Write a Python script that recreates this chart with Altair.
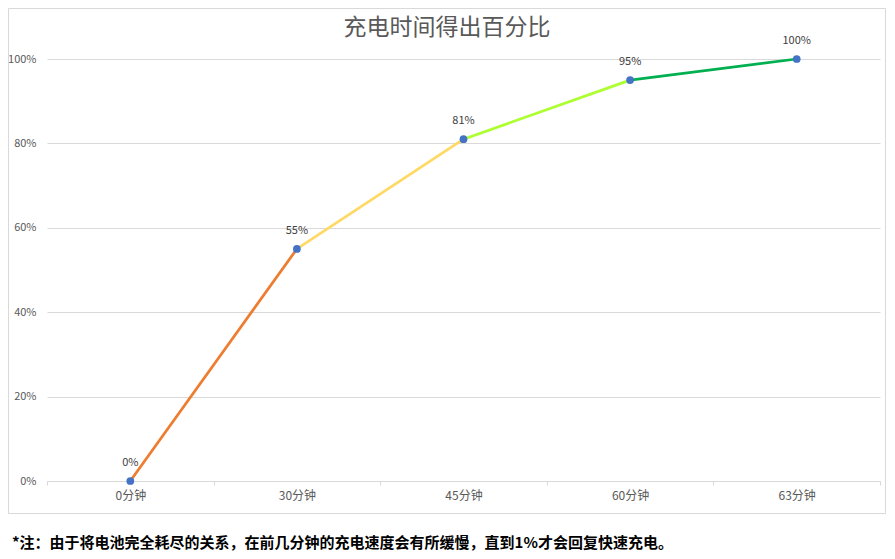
import altair as alt
import pandas as pd

categories = ["0分钟", "30分钟", "45分钟", "60分钟", "63分钟"]
values = [0.00, 0.55, 0.81, 0.95, 1.00]
labels = ["0%", "55%", "81%", "95%", "100%"]
segment_colors = ["#ED7D31", "#FFD966", "#ADFF2F", "#00B050"]
y_ticks = [0, 0.2, 0.4, 0.6, 0.8, 1.0]
title_text = "充电时间得出百分比"
note_text = "*注：由于将电池完全耗尽的关系，在前几分钟的充电速度会有所缓慢，直到1%才会回复快速充电。"

points = pd.DataFrame({"cat": categories, "val": values, "label": labels})
seg_rows = []
for i, c in enumerate(segment_colors):
    for j in (i, i + 1):
        seg_rows.append({"seg": f"s{i}", "cat": categories[j], "val": values[j], "color": c})
segs = pd.DataFrame(seg_rows)

FONT = "Noto Sans CJK SC"

x_enc = alt.X(
    "cat:N",
    sort=categories,
    bandPosition=0.5,
    scale=alt.Scale(type="band", paddingInner=0, paddingOuter=0, domain=categories),
    axis=alt.Axis(
        title=None, labelAngle=0, tickBand="extent", ticks=True, tickSize=4,
        tickColor="#d9d9d9", domainColor="#d9d9d9", labelColor="#595959",
        labelFontSize=12, labelFont=FONT, labelPadding=5, grid=False,
    ),
)
y_enc = alt.Y(
    "val:Q",
    scale=alt.Scale(domain=[0, 1], nice=False),
    axis=alt.Axis(
        title=None, format=".0%", values=y_ticks, domain=False, ticks=False,
        labelPadding=11, gridColor="#d9d9d9", labelColor="#595959",
        labelFontSize=11, labelFont=FONT,
    ),
)

one = pd.DataFrame({"t": [title_text], "n": [note_text]})

border = alt.Chart(one).mark_rect(
    filled=False, stroke="#d9d9d9", strokeWidth=1, fillOpacity=0
).encode(
    x=alt.value(-38.5), x2=alt.value(838.5), y=alt.value(-50.5), y2=alt.value(454.5)
)

lines = alt.Chart(segs).mark_line(strokeWidth=2.75, strokeCap="round").encode(
    x=x_enc, y=y_enc, detail="seg:N", color=alt.Color("color:N", scale=None)
)

dots = alt.Chart(points).mark_point(
    filled=True, size=60, color="#4472C4", opacity=1
).encode(x=x_enc, y=y_enc)

texts = alt.Chart(points).mark_text(
    dy=-18, fontSize=11, color="#404040", font=FONT, baseline="middle"
).encode(x=x_enc, y=y_enc, text="label:N")

title = alt.Chart(one).mark_text(
    fontSize=23, color="#595959", font=FONT, align="center", baseline="middle"
).encode(x=alt.value(400), y=alt.value(-31), text="t:N")

note = alt.Chart(one).mark_text(
    fontSize=15, fontWeight="bold", color="#000000", font=FONT,
    align="left", baseline="middle"
).encode(x=alt.value(-35), y=alt.value(484), text="n:N")

chart = alt.layer(border, lines, dots, texts, title, note).properties(
    width=833,
    height=422,
    padding={"left": 39, "top": 51, "right": 6, "bottom": 75},
    autosize=alt.AutoSizeParams(type="none"),
).configure_view(stroke=None)

chart.save("out.html", embed_options={"renderer": "svg", "actions": False})
